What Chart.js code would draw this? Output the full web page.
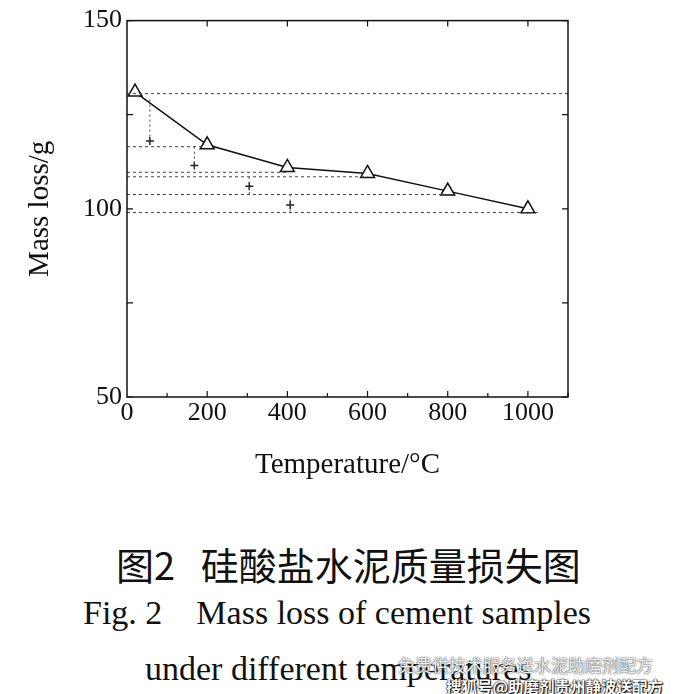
<!DOCTYPE html>
<html>
<head>
<meta charset="utf-8">
<script src="https://cdn.jsdelivr.net/npm/chart.js@4"></script>
<style>
    body { margin: 0; background: #fff; }
    #wrap { position: absolute; left: 0; top: 0; width: 675px; height: 500px; }
    .cap { position: absolute; white-space: nowrap; color: #111; line-height: 1; }
    #cap1 { top: 536px; left: 116px; font: 38px "Noto Sans CJK SC", sans-serif; }
    #cap2 { top: 594px; left: 83px; font: 34px "Liberation Serif", serif; }
    #cap3 { top: 650px; left: 145px; font: 34px "Liberation Serif", serif; }
    #wm1 { top: 652px; left: 398px; font: 17px "Noto Sans CJK SC", sans-serif; color: #eee;
           text-shadow: 0 0 2px #555, 0 0 1px #555; }
    #wm2 { top: 675px; left: 446px; font: bold 15.5px "Noto Sans CJK SC", sans-serif; color: #fff;
           text-shadow: 0 0 2px #000, 0 0 1px #000, 1px 1px 1px #000; }
</style>
</head>
<body>
<div id="wrap"><canvas id="lossChart"></canvas></div>
<div class="cap" id="cap1">图2&nbsp;&nbsp;&nbsp;硅酸盐水泥质量损失图</div>
<div class="cap" id="cap2">Fig. 2&nbsp;&nbsp;&nbsp;&nbsp;Mass loss of cement samples</div>
<div class="cap" id="cap3">under different temperatures</div>
<div class="cap" id="wm1">免费供技术服务送水泥助磨剂配方</div>
<div class="cap" id="wm2">搜狐号@助磨剂贵州静波送配方</div>
<script>
// температура и масса
const temps = [20, 200, 400, 600, 800, 1000];
const mass = [131, 117, 111, 109.4, 104.7, 100];

// horizontal reference lines: level and how far they run
const refLevels = [130.6, 116.5, 109.7, 108.5, 103.8, 99];
const refEnds = [1100, 190, 400, 600, 800, 1025];

// vertical gap markers
const gapX = [57, 168, 305, 407];
const gapTop = [129, 116.5, 108.5, 103.8];
const gapBottom = [117, 110, 103.8, 99];
const gapMark = [118, 111.5, 106, 101];

const xTicks = [0, 200, 400, 600, 800, 1000];
const yTicks = [50, 75, 100, 125, 150];
const yLabels = [50, 100, 150];

const serif = '"Liberation Serif", "Times New Roman", serif';

const datasets = [];
refLevels.forEach((lv, i) => {
    datasets.push({
        type: 'line',
        data: [{x: 0, y: lv}, {x: refEnds[i], y: lv}],
        borderColor: '#444',
        borderWidth: 1,
        borderDash: [3, 3],
        pointRadius: 0,
    });
});
gapX.forEach((gx, i) => {
    datasets.push({
        type: 'line',
        data: [{x: gx, y: gapTop[i]}, {x: gx, y: gapBottom[i]}],
        borderColor: '#444',
        borderWidth: 1,
        borderDash: [2, 3],
        pointRadius: 0,
    });
    datasets.push({
        type: 'scatter',
        data: [{x: gx, y: gapMark[i]}],
        pointStyle: 'cross',
        pointRadius: 4,
        borderColor: '#222',
        borderWidth: 1.5,
    });
});
datasets.push({
    type: 'line',
    data: temps.map((t, i) => ({x: t, y: mass[i]})),
    borderColor: '#111',
    borderWidth: 1.5,
    pointStyle: 'triangle',
    pointRadius: 8,
    pointBackgroundColor: '#fff',
    pointBorderColor: '#111',
    pointBorderWidth: 1.5,
});

// рамка и внутренние засечки
const framePlugin = {
    id: 'frame',
    afterDatasetsDraw(chart) {
        const {ctx, chartArea: a, scales: {x, y}} = chart;
        ctx.save();
        ctx.strokeStyle = '#111';
        ctx.lineWidth = 1.5;
        ctx.strokeRect(a.left, a.top, a.right - a.left, a.bottom - a.top);
        ctx.lineWidth = 1.2;
        ctx.beginPath();
        for (let v = 100; v <= 1100; v += 100) {
            const px = x.getPixelForValue(v);
            const len = v % 200 === 0 ? 6 : 4;
            ctx.moveTo(px, a.bottom); ctx.lineTo(px, a.bottom - len);
            if (v % 200 === 0) { ctx.moveTo(px, a.top); ctx.lineTo(px, a.top + 6); }
        }
        yTicks.forEach(v => {
            const py = y.getPixelForValue(v);
            ctx.moveTo(a.left, py); ctx.lineTo(a.left + 6, py);
            ctx.moveTo(a.right, py); ctx.lineTo(a.right - 6, py);
        });
        ctx.stroke();
        ctx.restore();
    }
};

new Chart(document.getElementById('lossChart'), {
    type: 'scatter',
    data: {datasets: datasets},
    options: {
        responsive: true,
        maintainAspectRatio: false,
        animation: false,
        layout: {padding: {top: 15, right: 107, bottom: 0, left: 0}},
        plugins: {legend: {display: false}, tooltip: {enabled: false}},
        scales: {
            x: {
                type: 'linear',
                min: 0,
                max: 1100,
                afterFit: (s) => { s.height = 103; },
                afterBuildTicks: (s) => { s.ticks = xTicks.map(v => ({value: v})); },
                grid: {display: false, drawTicks: false},
                border: {display: false},
                ticks: {color: '#111', font: {family: serif, size: 26}, padding: 1, maxRotation: 0,
                    callback: (v) => String(v)},
                title: {display: true, text: 'Temperature/°C', color: '#111',
                    font: {family: serif, size: 29}, padding: {top: 0, bottom: 17}},
            },
            y: {
                min: 50,
                max: 150,
                afterFit: (s) => { s.width = 127; },
                afterBuildTicks: (s) => { s.ticks = yLabels.map(v => ({value: v})); },
                grid: {display: false, drawTicks: false},
                border: {display: false},
                ticks: {color: '#111', font: {family: serif, size: 26}, padding: 5,
                    callback: (v) => String(v)},
                title: {display: true, text: 'Mass loss/g', color: '#111',
                    font: {family: serif, size: 29}, padding: {top: 23, bottom: 0}},
            }
        }
    },
    plugins: [framePlugin]
});
</script>
</body>
</html>
